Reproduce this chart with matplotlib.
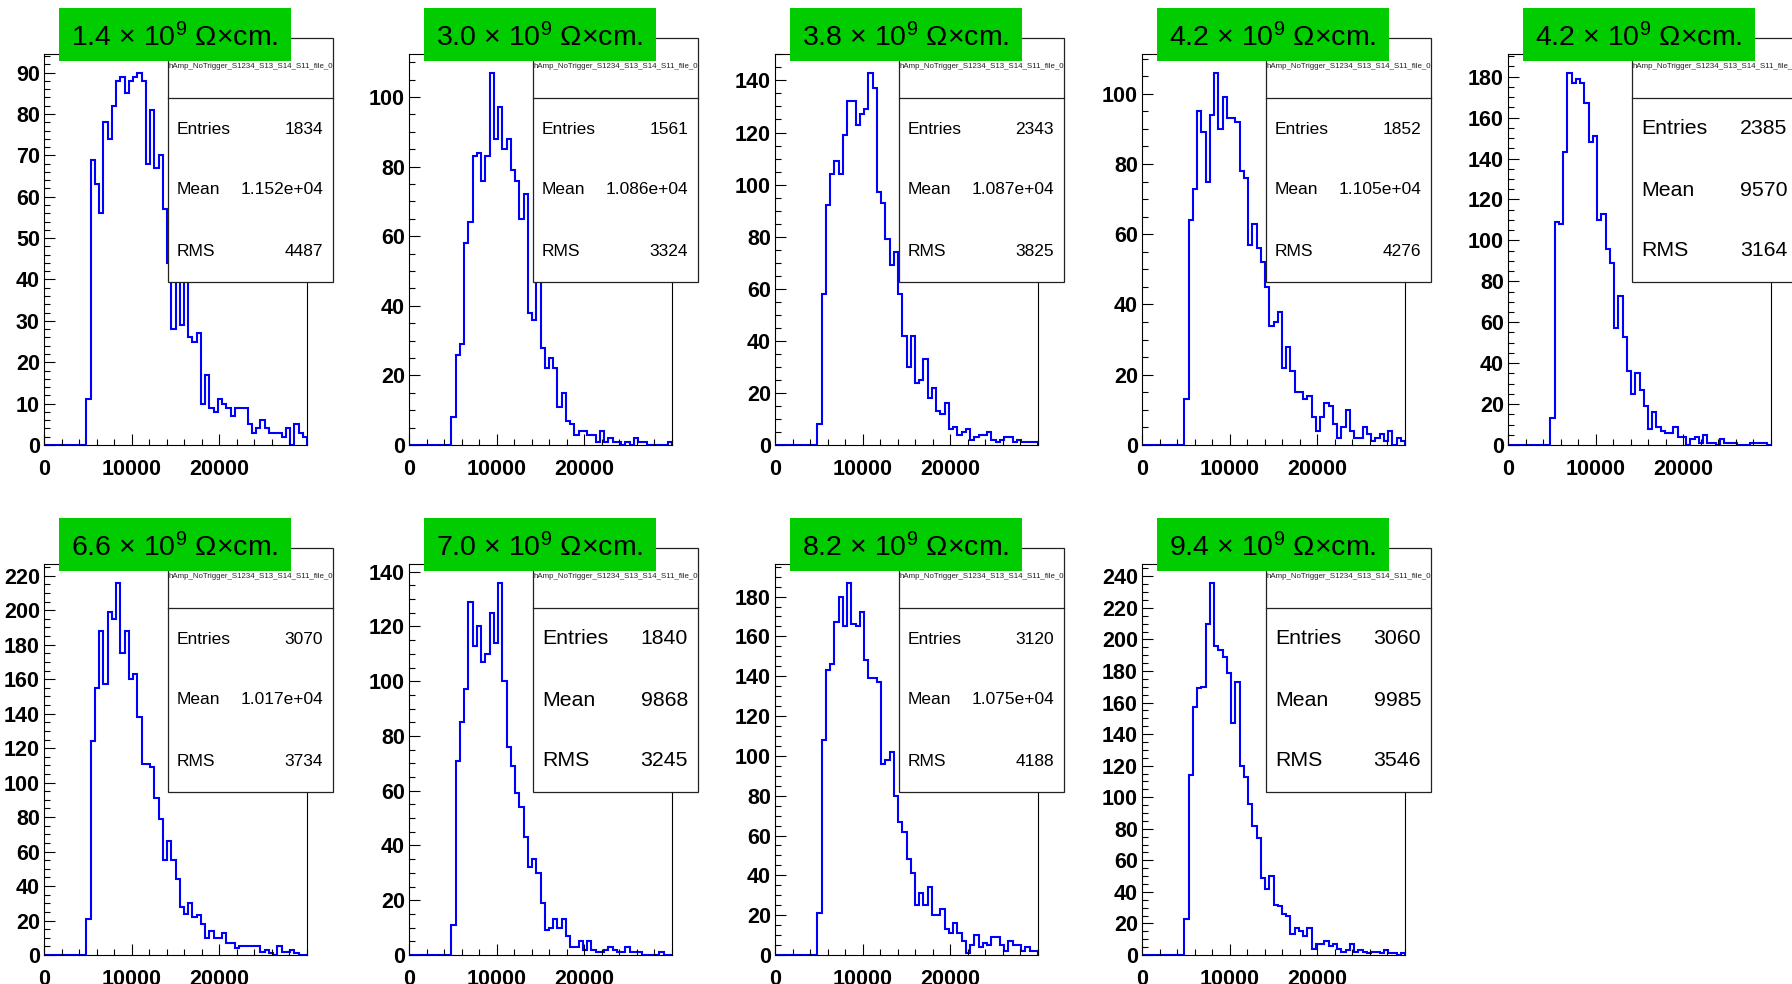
import numpy as np
import matplotlib
matplotlib.use("Agg")
import matplotlib.pyplot as plt
from matplotlib.patches import Rectangle
from matplotlib.ticker import MultipleLocator, AutoMinorLocator, FixedLocator

plt.rcParams['font.family'] = ['Liberation Sans', 'DejaVu Sans']
plt.rcParams['font.weight'] = 'bold'
plt.rcParams['mathtext.fontset'] = 'custom'
plt.rcParams['mathtext.rm'] = 'Liberation Sans:weight=normal'
plt.rcParams['mathtext.it'] = 'Liberation Sans:italic:weight=normal'
plt.rcParams['mathtext.bf'] = 'Liberation Sans:bold'

# 62 bins over 0..30000, the first 10 bins are empty
n_bins = 62
first_bin = 10
x_max = 30000

resistivity = ["1.4", "3.0", "3.8", "4.2", "4.2", "6.6", "7.0", "8.2", "9.4"]
entries = ["1834", "1561", "2343", "1852", "2385", "3070", "1840", "3120", "3060"]
means = ["1.152e+04", "1.086e+04", "1.087e+04", "1.105e+04", "9570",
         "1.017e+04", "9868", "1.075e+04", "9985"]
rms = ["4487", "3324", "3825", "4276", "3164", "3734", "3245", "4188", "3546"]
big_stats = [False, False, False, False, True, False, True, False, True]

counts_1 = [11, 69, 63, 56, 78, 74, 82, 88, 89, 85, 88, 89, 90, 88, 68, 81, 67, 70, 57, 44,
            28, 45, 29, 40, 26, 25, 27, 10, 17, 9, 8, 11, 10, 9, 7, 9, 9, 9, 5, 3,
            4, 6, 4, 3, 3, 3, 2, 4, 0, 5, 3, 2]
counts_2 = [8, 26, 29, 58, 64, 83, 84, 76, 83, 107, 88, 97, 85, 88, 79, 76, 65, 72, 38, 36,
            50, 28, 22, 25, 22, 11, 15, 7, 6, 3, 4, 4, 3, 3, 1, 4, 1, 2, 1, 1,
            0, 1, 0, 2, 1, 1, 0, 0, 0, 0, 0, 1]
counts_3 = [8, 58, 92, 104, 109, 104, 119, 132, 132, 123, 127, 129, 143, 137, 97, 93, 79, 69, 74, 58,
            42, 30, 42, 24, 25, 33, 18, 22, 13, 12, 16, 6, 7, 4, 5, 6, 2, 3, 4, 4,
            5, 2, 1, 2, 3, 3, 1, 2, 1, 1, 1, 1]
counts_4 = [13, 64, 73, 95, 89, 75, 94, 106, 90, 99, 93, 93, 92, 78, 76, 57, 63, 56, 52, 45,
            34, 35, 38, 22, 28, 21, 15, 15, 13, 14, 8, 4, 8, 12, 11, 6, 2, 5, 10, 4,
            2, 2, 5, 3, 1, 2, 3, 1, 4, 0, 2, 1]
counts_5 = [13, 109, 108, 143, 182, 177, 179, 177, 167, 148, 151, 110, 113, 96, 89, 57, 73, 53, 36, 25,
            35, 27, 19, 8, 16, 9, 7, 6, 6, 9, 4, 4, 0, 3, 4, 1, 5, 1, 1, 0,
            3, 1, 1, 1, 0, 0, 0, 1, 1, 1, 1, 0]
counts_6 = [21, 124, 155, 188, 157, 199, 195, 216, 175, 188, 160, 163, 138, 111, 111, 109, 91, 79, 55, 66,
            55, 44, 28, 24, 30, 22, 23, 18, 10, 14, 10, 10, 13, 7, 7, 4, 5, 5, 5, 5,
            5, 2, 3, 1, 0, 5, 2, 2, 3, 1, 0, 0]
counts_7 = [11, 71, 85, 97, 129, 113, 120, 107, 110, 125, 114, 136, 100, 76, 69, 59, 54, 43, 32, 35,
            30, 19, 9, 10, 13, 10, 13, 7, 3, 3, 5, 2, 5, 2, 1, 1, 2, 3, 2, 1,
            1, 3, 1, 1, 1, 0, 0, 0, 0, 1, 0, 0]
counts_8 = [21, 108, 143, 146, 167, 180, 165, 187, 166, 165, 172, 148, 139, 139, 137, 96, 98, 102, 80, 67,
            62, 48, 41, 25, 31, 25, 34, 20, 20, 23, 13, 11, 16, 11, 7, 1, 5, 10, 4, 6,
            5, 9, 9, 5, 2, 7, 5, 5, 2, 4, 2, 2]
counts_9 = [23, 114, 157, 169, 170, 210, 236, 196, 193, 189, 179, 147, 173, 120, 113, 96, 82, 74, 49, 42,
            50, 32, 31, 26, 25, 13, 17, 15, 12, 17, 4, 7, 7, 9, 6, 7, 4, 2, 3, 7,
            2, 3, 2, 1, 2, 2, 1, 3, 1, 1, 0, 1]
all_counts = [counts_1, counts_2, counts_3, counts_4, counts_5,
              counts_6, counts_7, counts_8, counts_9]
y_step = [10, 20, 20, 20, 20, 20, 20, 20, 20]

hist_name = "hAmp_NoTrigger_S1234_S13_S14_S11_file_0"

W, H = 1792, 984
fig = plt.figure(figsize=(W / 100, H / 100), dpi=100)


def rect(x0, y0, x1, y1, **kw):
    r = Rectangle((x0 / W, 1 - y1 / H), (x1 - x0) / W, (y1 - y0) / H,
                  transform=fig.transFigure, **kw)
    fig.add_artist(r)
    return r


def line(x0, y0, x1, y1, **kw):
    fig.add_artist(plt.Line2D([x0 / W, x1 / W], [1 - y0 / H, 1 - y1 / H],
                              transform=fig.transFigure, **kw))


col_left = [44, 409, 775, 1142, 1508]
row_top = [54, 564]
frame_w, frame_h = 263, 391

edges = np.linspace(0, x_max, n_bins + 1)

for i in range(9):
    left = col_left[i % 5]
    top = row_top[i // 5]
    ax = fig.add_axes([left / W, 1 - (top + frame_h) / H, frame_w / W, frame_h / H])
    vals = np.concatenate([np.zeros(first_bin), np.array(all_counts[i], dtype=float)])
    ax.stairs(vals, edges, color='#0000ff', linewidth=1.5, baseline=0)
    ax.set_xlim(0, x_max)
    ax.set_ylim(0, 1.05 * max(all_counts[i]))
    ax.xaxis.set_major_locator(FixedLocator([0, 10000, 20000]))
    ax.xaxis.set_minor_locator(MultipleLocator(2000))
    ax.yaxis.set_major_locator(MultipleLocator(y_step[i]))
    ax.yaxis.set_minor_locator(AutoMinorLocator(5 if y_step[i] == 10 else 4))
    ax.tick_params(which='both', direction='in', top=False, right=False,
                   width=0.8, labelsize=15.5)
    ax.tick_params(which='major', length=8)
    ax.tick_params(which='minor', length=4)
    ax.tick_params(axis='x', pad=10)
    ax.tick_params(axis='y', pad=3)
    for s in ax.spines.values():
        s.set_linewidth(0.8)

    # stats box
    bx0, bx1 = left + 124, left + 289
    by0, by1 = top - 16, top + 228
    box = rect(bx0, by0, bx1, by1, facecolor='white', edgecolor='#222222',
               linewidth=0.9, zorder=5)
    line(bx0, top + 44, bx1, top + 44, color='#222222', linewidth=0.9, zorder=6)
    t = fig.text((bx0 + bx1) / 2 / W, 1 - (top + 13) / H, hist_name,
                 fontsize=5.7, fontweight='normal', ha='center', va='center',
                 color='#222222', zorder=6)
    t.set_clip_path(box)
    fs = 15.3 if big_stats[i] else 12.5
    for label, value, dy in [("Entries", entries[i], 75), ("Mean", means[i], 136),
                             ("RMS", rms[i], 197)]:
        fig.text((bx0 + 9) / W, 1 - (top + dy) / H, label, fontsize=fs,
                 fontweight='normal', ha='left', va='center', zorder=6)
        fig.text((bx1 - 10) / W, 1 - (top + dy) / H, value, fontsize=fs,
                 fontweight='normal', ha='right', va='center', zorder=6)

    # green title box
    rect(left + 15, top - 46, left + 247, top + 7, facecolor='#00cc00',
         edgecolor='none', zorder=7)
    fig.text((left + 131) / W, 1 - (top - 16) / H,
             resistivity[i] + " × 10$^{9}$ Ω×cm.", fontsize=20.5,
             fontweight='normal', ha='center', va='center', zorder=8)

fig.savefig("out.png", dpi=100)
